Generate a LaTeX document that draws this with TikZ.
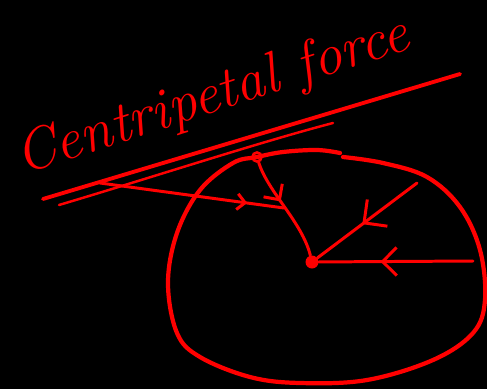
\documentclass[tikz,border=0pt]{standalone}
\usetikzlibrary{arrows.meta,decorations.markings}

\begin{document}
\begin{tikzpicture}[
  x=0.02cm, y=-0.02cm,
  pen/.style={draw=red, line width=1.7pt, line cap=round, line join=round},
  rim/.style={draw=red, line width=2.4pt, line cap=round, line join=round},
  midarrow/.style 2 args={postaction={decorate},
    decoration={markings, mark=at position #1 with
      {\arrow[red, line width=1.7pt]{Straight Barb[length=#2*0.5, width=#2]}}}},
  title/.style={text=red, font=\fontsize{33}{38}\selectfont\itshape,
    inner sep=0pt, anchor=base west, rotate=18}
]
  \fill[black] (0,0) rectangle (487,389);
  \useasboundingbox (0,0) rectangle (487,389);

  % heading and its two underlines
  \node[title] (heading) at (22,175) {Centripetal force};
  \draw[pen, line width=2.2pt] (43,199) -- (460,74);
  \draw[pen, line width=1.4pt] (59,205) .. controls (150,178) and (260,142) .. (333,123);

  % the path of the body
  \draw[rim] plot[smooth, tension=0.6] coordinates {
    (343,157) (383,163) (427,177) (460,207) (480,250) (485,300) (473,333)
    (433,360) (367,380) (300,383) (250,377) (200,357) (177,333) (168,283)
    (177,233) (200,190) (233,163) (257,157) (283,152) (317,150) (340,153)};

  \node[circle, fill=red, inner sep=0pt, minimum size=0.26cm] (centre) at (312,262) {};
  \node[circle, draw=red, line width=1.5pt, inner sep=0pt, minimum size=0.18cm] (body) at (257,157) {};

  \coordinate (tail) at (100,183);
  \coordinate (join) at (284,208);
  \coordinate (edge) at (417,183);
  \coordinate (side) at (473,261);

  % forces pointing to the centre
  \draw[pen, midarrow={0.8}{9pt}] (tail) -- (join);
  \draw[pen, midarrow={0.42}{13pt}] (body) .. controls (268,192) and (302,222) .. (centre);
  \draw[pen, midarrow={0.55}{19pt}] (edge) -- (centre);
  \draw[pen, midarrow={0.6}{16pt}] (side) -- (centre);
\end{tikzpicture}
\end{document}
